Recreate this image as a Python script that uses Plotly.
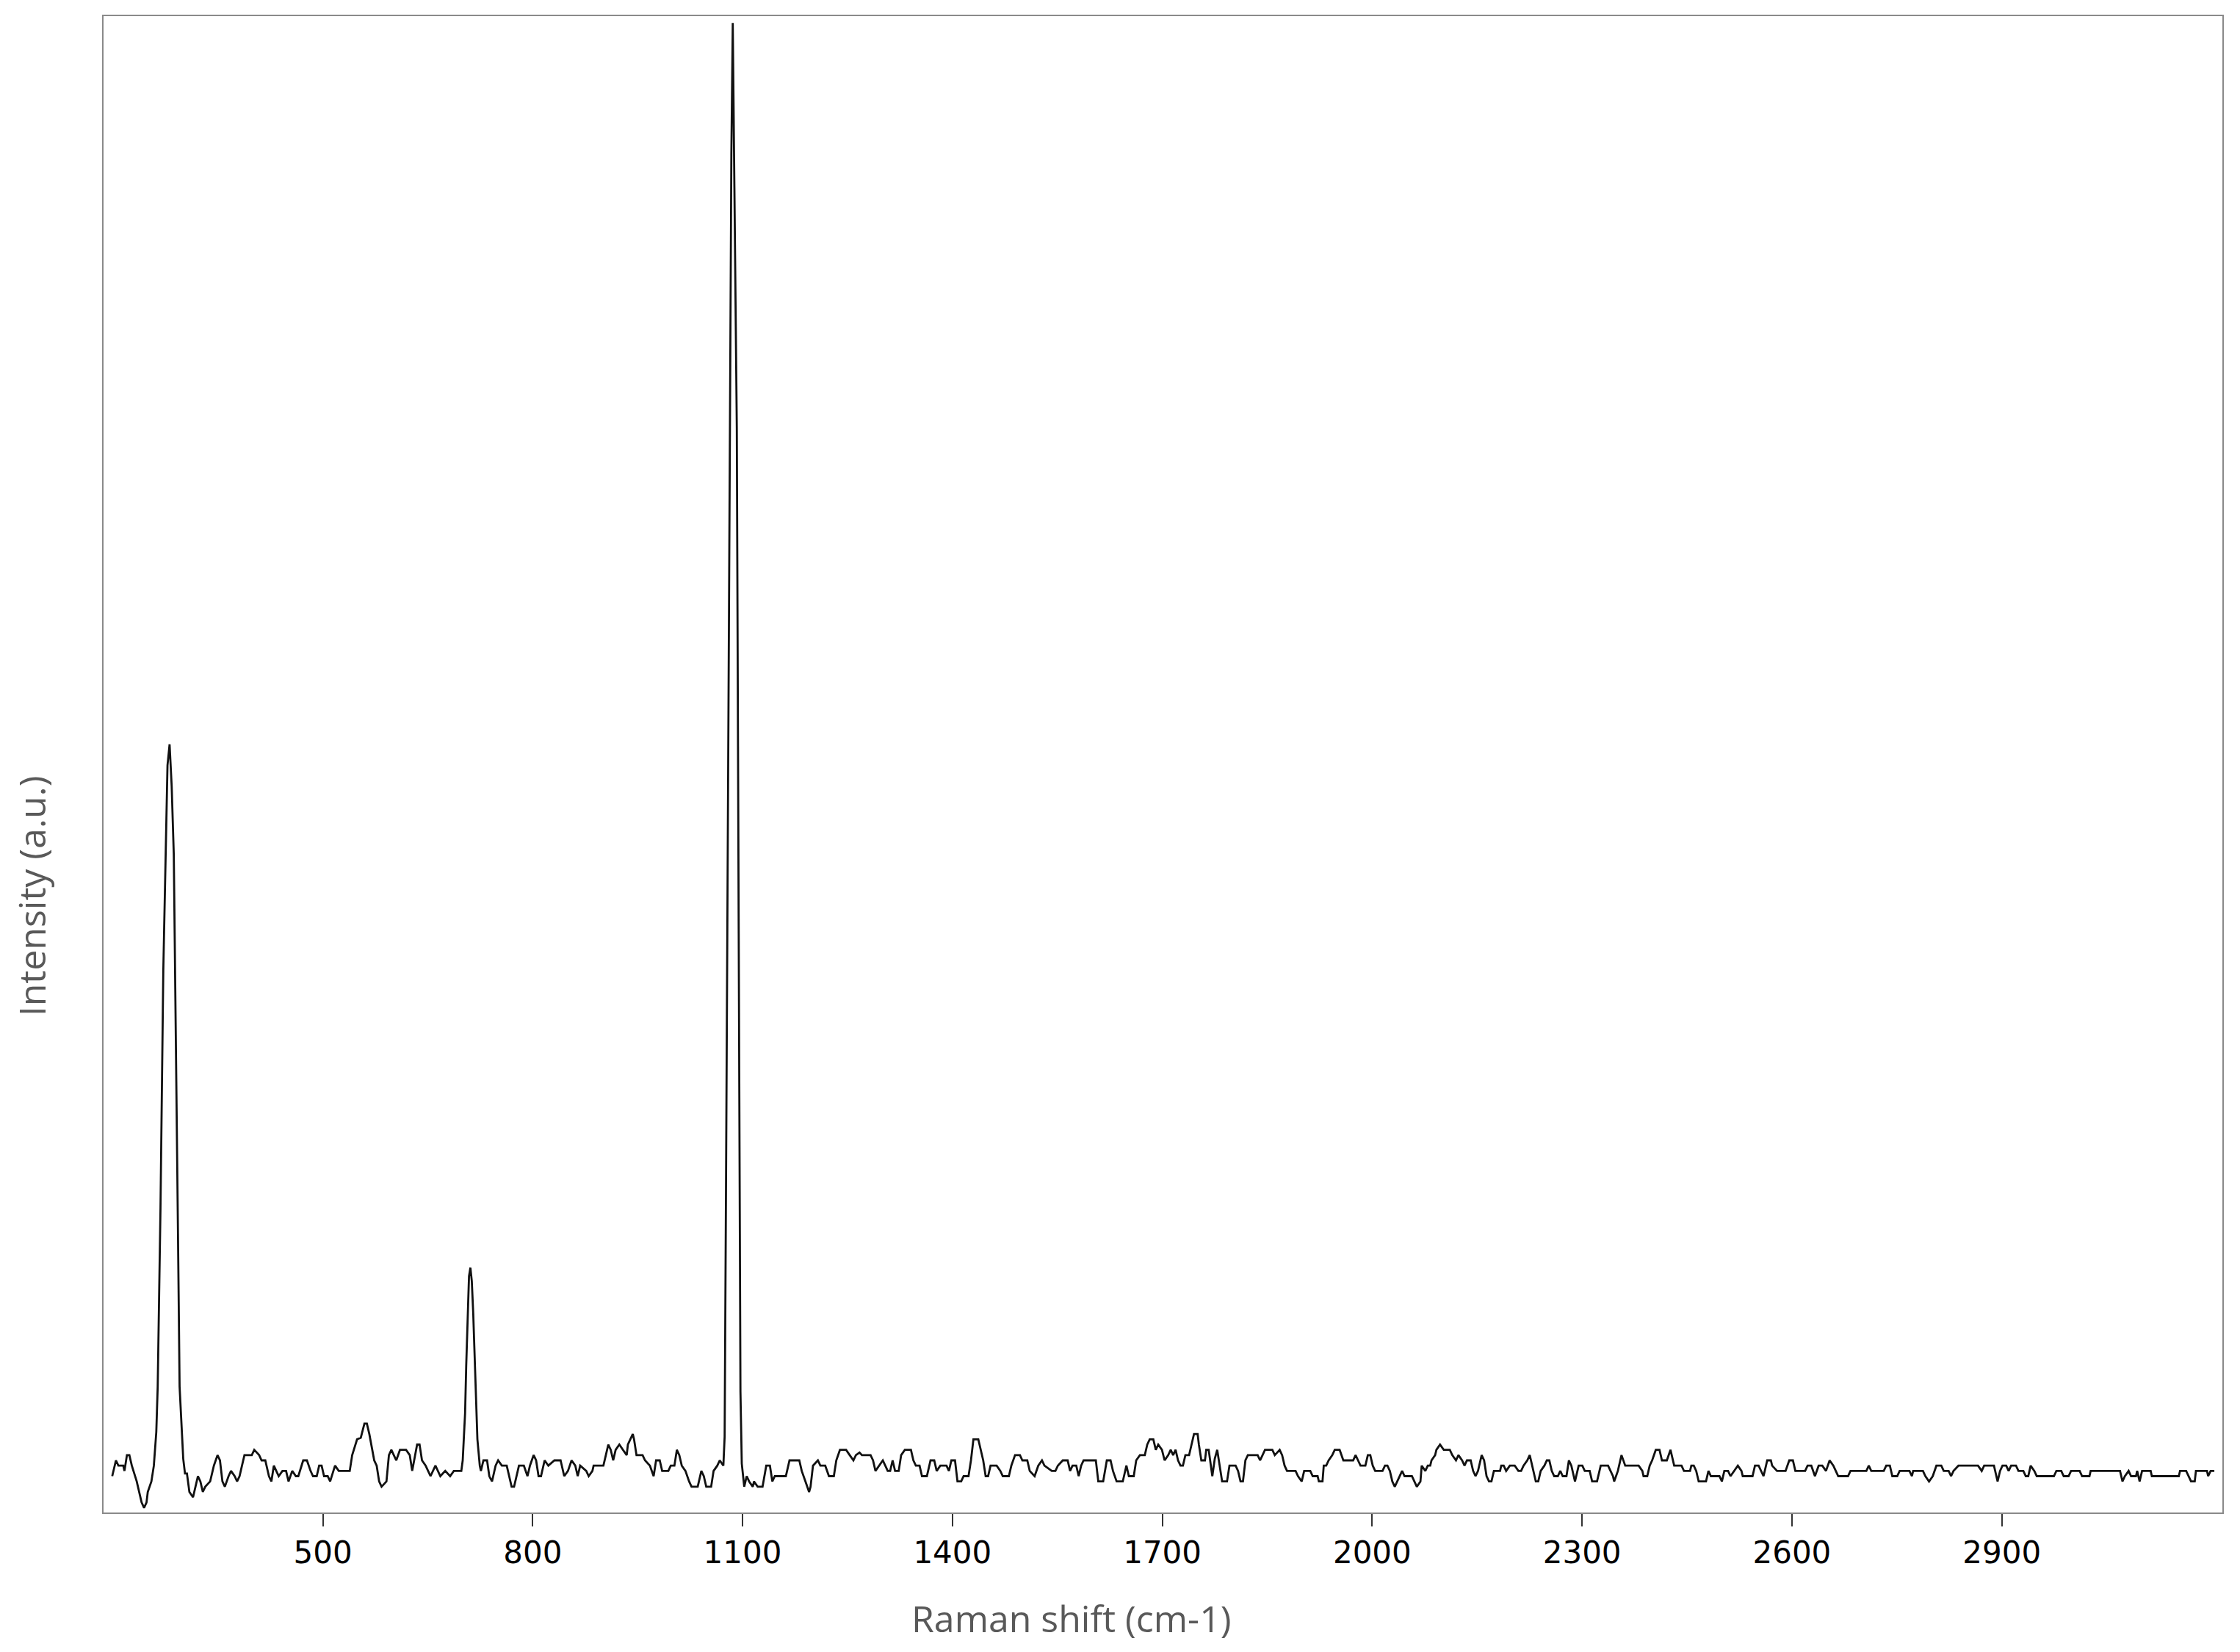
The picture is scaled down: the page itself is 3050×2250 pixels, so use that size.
import plotly.graph_objects as go

# Raman spectrum: (shift in cm-1, intensity in a.u.)
low_region = [
    (199, -1), (204.3, 2), (207.8, 1), (214.8, 1), (216.5, 0), (220, 3), (223.5, 3), (227, 1),
    (234, -2), (237.5, -4), (241, -6), (244.5, -7), (248, -6), (249.8, -4), (255, -2), (258.5, 1),
]
peak_281 = [
    (262, 7.4), (264, 16), (268, 50), (272, 95), (275, 117), (278, 134), (281, 138), (284, 130),
    (287, 117), (290, 85), (293, 45), (295.3, 16), (297, 11.6), (299, 6), (300.5, 2.3),
]
region_300_690 = [
    (303, -0.5), (305.8, -0.5), (309.3, -4), (314.5, -5), (318, -3), (321.5, -1), (325, -2), (328.5, -4),
    (332, -3), (339, -2), (344.3, 1), (349.5, 3), (353, 2), (356.5, -2), (360, -3), (365.3, -1),
    (368.8, 0), (374, -1), (377.5, -2), (381, -1), (384.5, 1), (388, 3), (398.5, 3), (402, 4),
    (409, 3), (412.5, 2), (417.8, 2), (423, -1), (426.5, -2), (430, 1), (433.5, 0), (437, -1),
    (442.3, 0), (447.5, 0), (451, -2), (456.3, 0), (461.5, -1), (465, -1), (472, 2), (477.3, 2),
    (482.5, 0), (486, -1), (491.3, -1), (494.8, 1), (498.3, 1), (501.8, -1), (507, -1), (510.5, -2),
    (517.5, 1), (522.8, 0), (538.5, 0), (542, 3), (549, 6), (554.3, 6.3), (559.5, 9), (563, 9),
    (566.5, 7), (570, 4.7), (573.5, 2), (577, 1), (580.5, -2), (584, -3), (591, -2), (594.5, 3),
    (598, 4), (601.5, 3), (605, 2), (610.3, 4), (619, 4), (624.3, 3), (627.8, 0), (634.8, 5),
    (638.3, 5), (641.8, 2), (647, 1), (650.5, 0), (654, -1), (661, 1), (664.5, 0), (668, -1),
    (675, 0), (682, -1), (687.3, 0), (691, 0), (698, 0), (700, 2),
]
peak_712 = [
    (703.4, 11), (705, 20), (707, 30), (709, 37), (711, 38.6), (713, 36), (715, 30), (717, 22),
    (719, 15.8), (721, 6), (724.4, 1),
]
region_725_1074 = [
    (726, 0), (729.6, 2), (734.8, 2), (738, -1), (741.9, -2), (743.6, -1), (747, 1), (750.6, 2),
    (755.9, 1), (762.9, 1), (766.4, -1), (769.9, -3), (773.4, -3), (778.6, 0), (780.4, 1), (787.4, 1),
    (792.6, -1), (796.1, 1), (801.4, 3), (804.9, 2), (808.4, -1), (811.9, -1), (817.1, 2), (822.4, 1),
    (831.1, 2), (839.9, 2), (845.1, -1), (850.4, 0), (855.6, 2), (860.9, 1), (864.4, -1), (867.9, 1),
    (876.6, 0), (880.1, -1), (885.4, 0), (887.1, 1), (901.1, 1), (904.6, 3), (908.1, 5), (911.6, 4),
    (915.1, 2), (918.6, 4), (923.9, 5), (929.1, 4), (934.4, 3), (936.1, 5), (939.6, 6), (943.1, 7),
    (944.9, 6), (948.4, 3), (957.1, 3), (960.6, 2), (967.6, 1), (972.9, -1), (976.4, 2), (981.6, 2),
    (985.1, 0), (993.9, 0), (997.4, 1), (1002.6, 1), (1006.1, 4), (1009.6, 3), (1013.1, 1), (1018.4, 0),
    (1023.6, -2), (1027.1, -3), (1035.9, -3), (1041.1, 0), (1044.6, -1), (1048.1, -3), (1055.1, -3),
    (1058.6, 0), (1063.9, 1), (1067.4, 2), (1072.6, 1),
]
peak_1086 = [
    (1074.4, 6.5), (1076, 45), (1078, 100), (1080, 155), (1081.7, 198), (1084, 250), (1086, 275),
    (1088, 250), (1090, 215), (1091.8, 198), (1094, 120), (1096, 55), (1097, 15), (1098.9, 1.4),
]
region_1100_1700 = [
    (1102.4, -3), (1105.9, -1), (1109.4, -2), (1114.6, -3), (1116.4, -2), (1121.6, -3), (1128.6, -3),
    (1133.9, 1), (1139.1, 1), (1142.6, -2), (1146.1, -1), (1161.9, -1), (1167.1, 2), (1181.1, 2),
    (1184.6, 0), (1189.9, -2), (1195.1, -4), (1197.2, -3), (1200.7, 1), (1207.7, 2), (1211.2, 1),
    (1218.2, 1), (1223.5, -1), (1230.5, -1), (1234, 2), (1239.2, 4), (1248, 4), (1253.2, 3),
    (1258.5, 2), (1262, 3), (1267.2, 3.5), (1270.7, 3), (1283, 3), (1286.5, 2), (1290, 0), (1295.2, 1),
    (1300.5, 2), (1304, 1), (1307.5, 0), (1311, 0), (1314.5, 2), (1318, 0), (1323.2, 0), (1326.7, 3),
    (1332, 4), (1340.7, 4), (1344.2, 2), (1347.7, 1), (1353, 1), (1356.5, -1), (1363.5, -1),
    (1368.7, 2), (1374, 2), (1377.5, 0), (1382.7, 1), (1391.5, 1), (1395, 0), (1398.5, 2), (1403.7, 2),
    (1407.2, -2), (1412.5, -2), (1416, -1), (1423, -1), (1426.5, 2), (1430, 6), (1437, 6), (1440.5, 4),
    (1444, 2), (1447.5, -1), (1451, -1), (1454.5, 1), (1463.2, 1), (1468.5, 0), (1472, -1),
    (1480.7, -1), (1484.2, 1), (1489.5, 3), (1496.5, 3), (1500, 2), (1507, 2), (1510.5, 0),
    (1517.5, -1), (1522.7, 1), (1528, 2), (1531.5, 1), (1542, 0), (1547.2, 0), (1550.7, 1),
    (1557.7, 2), (1564.7, 2), (1568.2, 0), (1571.7, 1), (1577, 1), (1580.5, -1), (1584, 1),
    (1587.5, 2), (1605, 2), (1608.5, -2), (1615.5, -2), (1620.7, 2), (1626, 2), (1629.5, 0),
    (1634.7, -2), (1643.5, -2), (1648.7, 1), (1652.2, -1), (1659.2, -1), (1662.7, 2), (1668, 3),
    (1675, 3), (1678.5, 5), (1682, 6), (1687.2, 6), (1690.7, 4), (1694.2, 5), (1699.5, 4),
]
region_1700_2210 = [
    (1703.3, 2), (1708.5, 3), (1712, 4), (1715.5, 3), (1719, 4), (1722.5, 2), (1726, 1), (1729.5, 1),
    (1733, 3), (1738.3, 3), (1741.8, 5), (1745.3, 7), (1750.5, 7), (1752.3, 5), (1755.8, 2), (1761, 2),
    (1762.8, 4), (1766.3, 4), (1771.5, -1), (1775, 2.3), (1778.5, 4), (1782, 1), (1785.5, -2),
    (1792.5, -2), (1796, 1), (1804.8, 1), (1808.3, 0), (1811.8, -2), (1815.3, -2), (1818.8, 2),
    (1822.3, 3), (1836.3, 3), (1839.8, 2), (1843.3, 3), (1846.8, 4), (1857.3, 4), (1860.8, 3),
    (1867.8, 4), (1871.3, 3), (1874.8, 1), (1878.3, 0), (1890.5, 0), (1894, -1), (1899.3, -2),
    (1902.8, 0), (1911.5, 0), (1915, -1), (1922, -1), (1923.8, -2), (1929, -2), (1930.8, 1),
    (1934.3, 1), (1937.8, 2), (1943, 3), (1946.5, 4), (1953.5, 4), (1958.8, 2), (1972.8, 2),
    (1976.3, 3), (1979.8, 2), (1983.3, 1), (1990.3, 1), (1992, 2), (1993.8, 3), (1997.3, 3),
    (2000.8, 1), (2004.3, 0), (2014.8, 0), (2018.3, 1), (2021.8, 1), (2025.3, 0), (2028.8, -2),
    (2032.3, -3), (2035.8, -2), (2039.3, -1), (2042.8, 0), (2046.3, -1), (2056.8, -1), (2060.3, -2),
    (2063.8, -3), (2069, -2), (2070.8, 1), (2076, 0), (2079.5, 1), (2083, 1), (2084.8, 2), (2090, 3),
    (2091.8, 4), (2097, 5), (2102.3, 4), (2111, 4), (2114.5, 3), (2119.8, 2), (2123.3, 3),
    (2128.5, 2), (2132, 1), (2135.5, 2), (2140.8, 2), (2144.3, 0), (2147.8, -1), (2151.3, 0),
    (2156.5, 3), (2160, 2), (2163.5, -1), (2167, -2), (2170.5, -2), (2174, 0), (2182.8, 0),
    (2184.5, 1), (2188, 1), (2191.5, 0), (2196.8, 1), (2203.8, 1), (2209, 0),
]
region_2210_2715 = [
    (2212.9, 0), (2216.4, 1), (2221.7, 2), (2225.2, 3), (2228.7, 1), (2232.2, -1), (2233.9, -2),
    (2237.4, -2), (2240.9, 0), (2246.2, 1), (2249.7, 2), (2253.2, 2), (2256.7, 0), (2260.2, -1),
    (2265.4, -1), (2268.9, 0), (2272.4, -1), (2277.7, -1), (2281.2, 2), (2284.7, 1), (2288.2, -1),
    (2289.9, -2), (2295.2, 1), (2300.4, 1), (2303.9, 0), (2310.9, 0), (2314.4, -2), (2321.4, -2),
    (2326.7, 1), (2337.2, 1), (2340.7, 0), (2344.2, -1), (2345.9, -2), (2351.2, 0), (2356.4, 3),
    (2361.7, 1), (2380.9, 1), (2386.2, 0), (2387.9, -1), (2393.2, -1), (2396.7, 1), (2400.2, 2),
    (2405.4, 4), (2410.7, 4), (2414.2, 2), (2421.2, 2), (2426.4, 4), (2429.9, 2), (2431.7, 1),
    (2442.2, 1), (2445.7, 0), (2454.4, 0), (2456.2, 1), (2459.7, 1), (2463.2, 0), (2466.7, -2),
    (2477.2, -2), (2480.7, 0), (2484.2, -1), (2496.4, -1), (2499.9, -2), (2503.4, 0), (2508.7, 0),
    (2512.2, -1), (2517.4, 0), (2522.7, 1), (2527.9, 0), (2529.7, -1), (2543.7, -1), (2547.2, 1),
    (2552.4, 1), (2559.4, -1), (2561.2, 0), (2564.7, 2), (2569.9, 2), (2571.7, 1), (2578.7, 0),
    (2590.9, 0), (2596.2, 2), (2601.4, 2), (2604.9, 0), (2618.9, 0), (2622.4, 1), (2627.7, 1),
    (2632.9, -1), (2638.2, 1), (2643.4, 1), (2648.7, 0), (2653.9, 2), (2659.2, 1), (2662.7, 0),
    (2666.2, -1), (2680.2, -1), (2683.7, 0), (2706.4, 0), (2709.9, 1), (2713.4, 0),
]
region_high = [
    (2731.3, 0), (2734.8, 1), (2740, 1), (2743.5, -1), (2750.5, -1), (2754, 0), (2768, 0),
    (2771.5, -1), (2773.3, 0), (2787.3, 0), (2790.8, -1), (2796, -2), (2801.3, -1), (2806.5, 1),
    (2813.5, 1), (2817, 0), (2824, 0), (2827.5, -1), (2831, 0), (2838, 1), (2866, 1), (2871.3, 0),
    (2874.8, 1), (2888.8, 1), (2892.3, -1), (2894, -2), (2897.5, 0), (2901, 1), (2906.3, 1),
    (2909.8, 0), (2913.3, 1), (2920.3, 1), (2923.8, 0), (2930.8, 0), (2934.3, -1), (2937.8, -1),
    (2941.3, 1), (2946.5, 0), (2950, -1), (2974.5, -1), (2978, 0), (2985, 0), (2988.5, -1),
    (2995.5, -1), (2999, 0), (3011.3, 0), (3014.8, -1), (3025.3, -1), (3027, 0), (3069, 0),
    (3072.5, -2), (3076, -1), (3081.3, 0), (3084.8, -1), (3091.8, -1), (3093.5, 0), (3097, -2),
    (3100.5, 0), (3112.8, 0), (3114.5, -1), (3153, -1), (3154.8, 0), (3163.5, 0), (3167, -1),
    (3170.5, -2), (3175.8, -2), (3177.5, 0), (3193.3, 0), (3195, -1), (3198.5, 0), (3203.8, 0),
]

tick_vals = [500, 800, 1100, 1400, 1700, 2000, 2300, 2600, 2900]

spectrum = (low_region + peak_281 + region_300_690 + peak_712 + region_725_1074
            + peak_1086 + region_1100_1700 + region_1700_2210 + region_2210_2715 + region_high)
shift = [p[0] for p in spectrum]
intensity = [p[1] for p in spectrum]

fig = go.Figure()
fig.add_trace(go.Scatter(x=shift, y=intensity, mode="lines",
                         line=dict(color="#111111", width=2.8)))

# page body has an 8px margin, so the plot margins are shifted to compensate
fig.update_layout(
    width=3050, height=2250,
    margin=dict(l=133, r=32, t=14, b=198),
    paper_bgcolor="white", plot_bgcolor="white",
    showlegend=False,
)
fig.update_xaxes(
    range=[186.6, 3215.3], tickvals=tick_vals, ticktext=[str(v) for v in tick_vals],
    ticks="outside", ticklen=17, tickwidth=2, tickcolor="#333333",
    showline=True, mirror=True, linecolor="#8a8a8a", linewidth=2,
    showgrid=False, zeroline=False,
    tickfont=dict(family="DejaVu Sans", size=42, color="black"),
)
fig.update_yaxes(
    range=[-7.9, 276.3], showticklabels=False, ticks="",
    showline=True, mirror=True, linecolor="#8a8a8a", linewidth=2,
    showgrid=False, zeroline=False,
)

title_font = dict(family="Open Sans", size=50, color="#595959")
fig.add_annotation(text="Raman shift (cm-1)", xref="paper", yref="paper",
                   x=0.4568, y=-0.0707, xanchor="center", yanchor="middle",
                   showarrow=False, font=title_font)
fig.add_annotation(text="Intensity (a.u.)", xref="paper", yref="paper",
                   x=-0.034, y=0.412, xanchor="center", yanchor="middle",
                   textangle=-90, showarrow=False, font=title_font)

fig.write_html("out.html")
